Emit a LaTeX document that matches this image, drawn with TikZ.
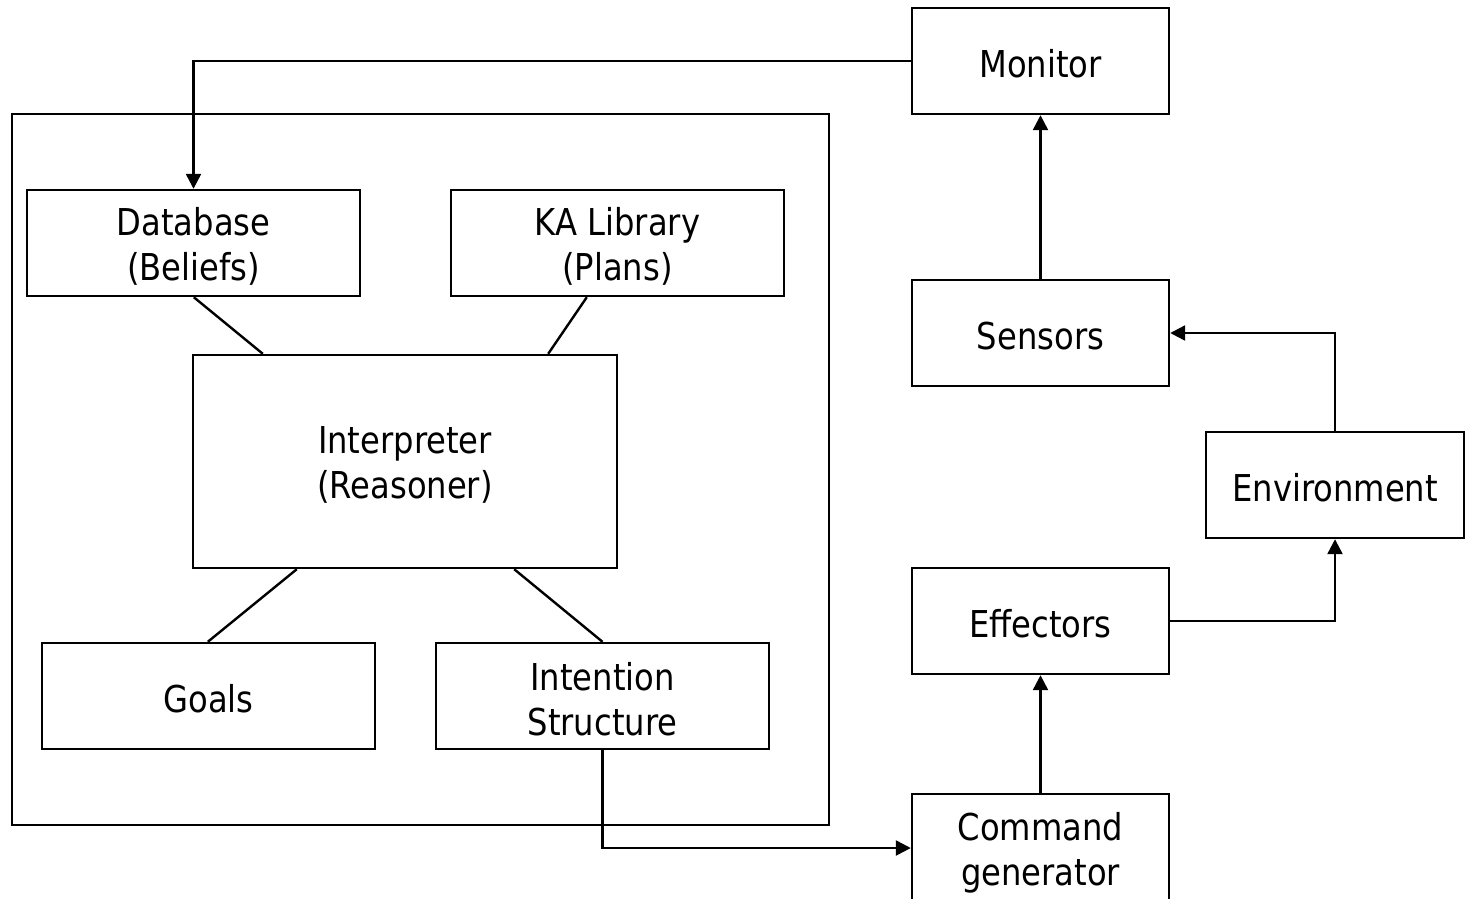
\documentclass[tikz,border=0pt]{standalone}
\usepackage{fontspec}
\setmainfont{DejaVu Sans}[FakeStretch=0.87]
\usetikzlibrary{arrows.meta,calc}
% strut that lowers the text a little inside its box
\newcommand{\tallstrut}{\rule{0pt}{34pt}}
\begin{document}
\begin{tikzpicture}[x=1pt,y=-1pt,line width=2.4pt,
  blk/.style={draw,rectangle,inner sep=0pt,align=center,
    font=\fontsize{37}{45}\selectfont,minimum width=#1},
  blk/.default=333pt,
  arr/.style={-{Triangle[length=15pt,width=15pt]}},
  link/.style={}]
\useasboundingbox (0,0) rectangle (1466,898);
\clip (0,0) rectangle (1466,898);

% agent core
\node[draw,rectangle,minimum width=817pt,minimum height=711pt] (core) at (420.5,469.5) {};
\node[blk,minimum height=106pt] (db) at (193.5,243) {\tallstrut Database\\(Beliefs)};
\node[blk,minimum height=106pt] (ka) at (617.5,243) {\tallstrut KA Library\\(Plans)};
\node[blk=424pt,minimum height=213pt] (interp) at (405,461.5) {\tallstrut Interpreter\\(Reasoner)};
\node[blk,minimum height=106pt] (goals) at (208.5,696) {\tallstrut Goals};
\node[blk,minimum height=106pt] (intent) at (602.5,696) {\tallstrut Intention\\Structure};

% periphery
\node[blk=257pt,minimum height=106pt] (monitor) at (1040.5,61) {\tallstrut Monitor};
\node[blk=257pt,minimum height=106pt] (sensors) at (1040.5,333) {\tallstrut Sensors};
\node[blk=258pt,minimum height=106pt] (env) at (1335,485) {\tallstrut Environment};
\node[blk=257pt,minimum height=106pt] (eff) at (1040.5,621) {\tallstrut Effectors};
\node[blk=257pt,minimum height=112pt] (cmd) at (1040.5,850) {\tallstrut Command\\generator};

% links inside the core
\draw[link] ($(db.south west)+(168,0)$) -- ($(interp.north west)+(71,0)$);
\draw[link] ($(ka.south west)+(137,0)$) -- ($(interp.north east)+(-70,0)$);
\draw[link] ($(interp.south west)+(105,0)$) -- ($(goals.north west)+(167,0)$);
\draw[link] ($(interp.south east)+(-104,0)$) -- (intent.north);

% data flow
\draw[arr] (monitor.west) -| (db.north);
\draw[arr] (sensors.north) -- (monitor.south);
\draw[arr] (env.north) |- (sensors.east);
\draw[arr] (eff.east) -| (env.south);
\draw[arr] (cmd.north) -- (eff.south);
\draw[arr] (intent.south) |- ($(cmd.west)+(0,-2)$);
\end{tikzpicture}
\end{document}
